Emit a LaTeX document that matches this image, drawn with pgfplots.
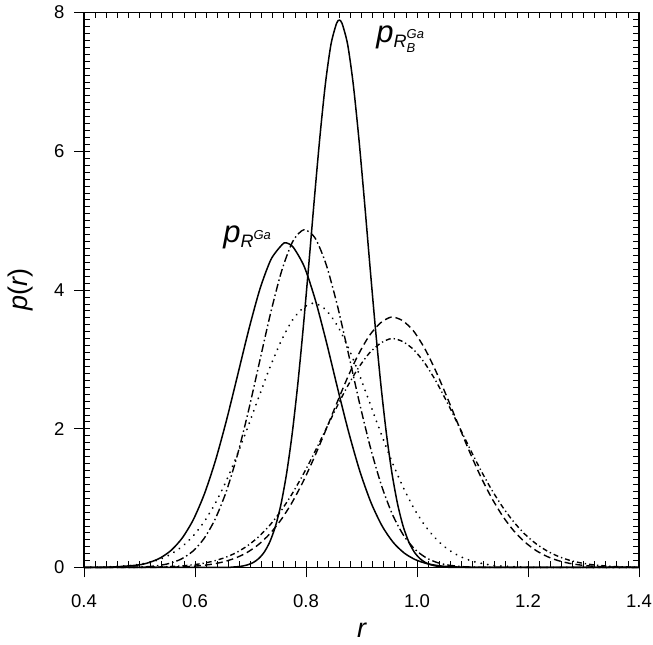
\documentclass[border=0pt]{standalone}
\usepackage{fontspec}
\setmainfont{Liberation Sans}
\usepackage{pgfplots}
\pgfplotsset{compat=1.18}
\begin{document}
\begin{tikzpicture}
\begin{axis}[
  scale only axis, width=555pt, height=555pt,
  xmin=0.4, xmax=1.4, ymin=0, ymax=8,
  xtick={0.4,0.6,0.8,1.0,1.2,1.4},
  xticklabels={0.4,0.6,0.8,1.0,1.2,1.4},
  ytick={0,2,4,6,8}, yticklabels={0,2,4,6,8},
  xtick pos=left, ytick pos=left,
  tick align=outside, major tick length=10pt,
  tick style={black, line width=0.8pt},
  axis line style={line width=1.1pt},
  tick label style={font=\fontsize{18.5}{21}\selectfont},
  xticklabel style={yshift=-14pt},
  yticklabel style={xshift=-6pt},
  xlabel={\itshape r}, ylabel={\itshape p\upshape(\itshape r\upshape)},
  label style={font=\fontsize{27}{30}\selectfont},
  xlabel style={at={(axis description cs:0.5,-0.1126)}, anchor=center},
  ylabel style={at={(axis description cs:-0.1135,0.5)}, anchor=center},
  every axis plot/.append style={smooth, tension=0.45},
  clip=false,
]
% solid p_{R^Ga}
\addplot[black, line width=1.5pt] coordinates {
(0.40,0) (0.447,0.005) (0.497,0.035) (0.517,0.071) (0.537,0.136) (0.557,0.247) (0.577,0.425)
(0.597,0.690) (0.617,1.062) (0.637,1.545) (0.657,2.130) (0.677,2.779) (0.697,3.432)
(0.717,4.014) (0.737,4.442) (0.757,4.654) (0.764,4.68) (0.777,4.616) (0.797,4.334) (0.817,3.851)
(0.837,3.241) (0.857,2.581) (0.877,1.947) (0.897,1.388) (0.917,0.938) (0.937,0.600)
(0.957,0.363) (0.977,0.208) (0.997,0.113) (1.017,0.058) (1.037,0.028) (1.057,0.013)
(1.097,0.002) (1.20,0) (1.40,0)};
% solid p_{R_B^Ga}
\addplot[black, line width=1.5pt] coordinates {
(0.40,0) (0.55,0) (0.655,0.002) (0.665,0.005) (0.675,0.010) (0.685,0.020) (0.695,0.039) (0.705,0.072)
(0.715,0.130) (0.725,0.224) (0.735,0.373) (0.745,0.595) (0.755,0.915) (0.765,1.353)
(0.775,1.922) (0.785,2.628) (0.795,3.453) (0.805,4.365) (0.815,5.309) (0.825,6.203)
(0.835,6.975) (0.845,7.541) (0.855,7.842) (0.860,7.89) (0.865,7.842) (0.875,7.541)
(0.885,6.975) (0.895,6.203) (0.905,5.309) (0.915,4.365) (0.925,3.453) (0.935,2.628)
(0.945,1.922) (0.955,1.353) (0.965,0.915) (0.975,0.595) (0.985,0.373) (0.995,0.224)
(1.005,0.130) (1.015,0.072) (1.025,0.039) (1.035,0.020) (1.045,0.010) (1.055,0.005)
(1.065,0.002) (1.15,0) (1.40,0)};
% long dash-dot
\addplot[black, line width=1.4pt, dash pattern=on 8pt off 3pt on 1.5pt off 3pt] coordinates {
(0.40,0) (0.496,0.006) (0.516,0.013) (0.536,0.030) (0.556,0.063) (0.576,0.125) (0.596,0.234)
(0.616,0.414) (0.636,0.692) (0.656,1.087) (0.676,1.610) (0.696,2.246) (0.716,2.954)
(0.736,3.659) (0.756,4.271) (0.776,4.698) (0.796,4.868) (0.816,4.754) (0.836,4.375)
(0.856,3.793) (0.876,3.098) (0.896,2.385) (0.916,1.730) (0.936,1.182) (0.956,0.760)
(0.976,0.461) (0.996,0.264) (1.016,0.142) (1.036,0.072) (1.056,0.035) (1.076,0.016)
(1.096,0.007) (1.136,0.001) (1.25,0) (1.40,0)};
% dotted
\addplot[black, line width=2pt, line cap=round, dash pattern=on 0.1pt off 6.5pt] coordinates {
(0.40,0.001) (0.436,0.006) (0.476,0.022) (0.496,0.040) (0.516,0.070) (0.536,0.117)
(0.556,0.190) (0.576,0.298) (0.596,0.449) (0.616,0.654) (0.636,0.918) (0.656,1.243)
(0.676,1.623) (0.696,2.043) (0.716,2.480) (0.736,2.904) (0.756,3.279) (0.776,3.571)
(0.796,3.751) (0.816,3.810) (0.836,3.710) (0.856,3.494) (0.876,3.174) (0.896,2.780)
(0.916,2.348) (0.936,1.914) (0.956,1.503) (0.976,1.139) (0.996,0.832) (1.016,0.586)
(1.036,0.398) (1.056,0.261) (1.076,0.165) (1.096,0.101) (1.116,0.059) (1.136,0.033)
(1.156,0.018) (1.196,0.005) (1.236,0.001) (1.32,0) (1.40,0)};
% dashed
\addplot[black, line width=1.4pt, dash pattern=on 7pt off 4pt] coordinates {
(0.40,0) (0.494,0.001) (0.534,0.003) (0.574,0.009) (0.594,0.017) (0.614,0.030) (0.634,0.052)
(0.654,0.087) (0.674,0.140) (0.694,0.217) (0.714,0.328) (0.734,0.478) (0.754,0.676)
(0.774,0.925) (0.794,1.225) (0.814,1.570) (0.834,1.948) (0.854,2.340) (0.874,2.722)
(0.894,3.064) (0.914,3.340) (0.934,3.524) (0.954,3.610) (0.974,3.558) (0.994,3.406)
(1.014,3.155) (1.034,2.830) (1.054,2.457) (1.074,2.066) (1.094,1.681) (1.114,1.324)
(1.134,1.010) (1.154,0.745) (1.174,0.532) (1.194,0.369) (1.214,0.247) (1.234,0.160)
(1.254,0.100) (1.274,0.061) (1.294,0.036) (1.314,0.020) (1.334,0.011) (1.354,0.006)
(1.394,0.002) (1.40,0.002)};
% dash-dot
\addplot[black, line width=1.4pt, dash pattern=on 5pt off 3pt on 1.3pt off 3pt] coordinates {
(0.40,0) (0.494,0.002) (0.534,0.007) (0.574,0.022) (0.594,0.037) (0.614,0.059) (0.634,0.094)
(0.654,0.143) (0.674,0.213) (0.694,0.310) (0.714,0.438) (0.734,0.602) (0.754,0.805)
(0.774,1.049) (0.794,1.328) (0.814,1.636) (0.834,1.962) (0.854,2.290) (0.874,2.600)
(0.894,2.872) (0.914,3.089) (0.934,3.231) (0.954,3.300) (0.974,3.258) (0.994,3.140)
(1.014,2.945) (1.034,2.688) (1.054,2.385) (1.074,2.062) (1.094,1.734) (1.114,1.417)
(1.134,1.128) (1.154,0.875) (1.174,0.660) (1.194,0.483) (1.214,0.345) (1.234,0.240)
(1.254,0.162) (1.274,0.106) (1.294,0.068) (1.314,0.042) (1.334,0.026) (1.354,0.015)
(1.374,0.009) (1.394,0.006) (1.40,0.005)};
\node at (axis cs:0.694,4.76) {\itshape\fontsize{31}{34}\selectfont p\fontsize{18}{20}\selectfont\raisebox{-5pt}{R}\raisebox{3pt}{\fontsize{13}{15}\selectfont Ga}};
\node at (axis cs:0.962,7.62) {\itshape\fontsize{31}{34}\selectfont p\fontsize{18}{20}\selectfont\raisebox{-5pt}{R}\rlap{\raisebox{3.5pt}{\fontsize{13}{15}\selectfont Ga}}\raisebox{-10pt}{\fontsize{13}{15}\selectfont B}};
\end{axis}
\begin{axis}[
  scale only axis, width=555pt, height=555pt,
  xmin=0.4, xmax=1.4, ymin=0, ymax=8,
  xtick={0.4,0.42,...,1.401}, ytick={0,0.1,...,8.01},
  xticklabels={}, yticklabels={},
  tick align=inside, major tick length=6pt,
  tick style={black, line width=0.7pt},
  axis line style={line width=1.1pt},
]
\end{axis}
\pgfresetboundingbox
\path ([xshift=-84pt,yshift=-77.5pt]current axis.south west) rectangle ([xshift=14pt,yshift=12.5pt]current axis.north east);
\end{tikzpicture}
\end{document}
